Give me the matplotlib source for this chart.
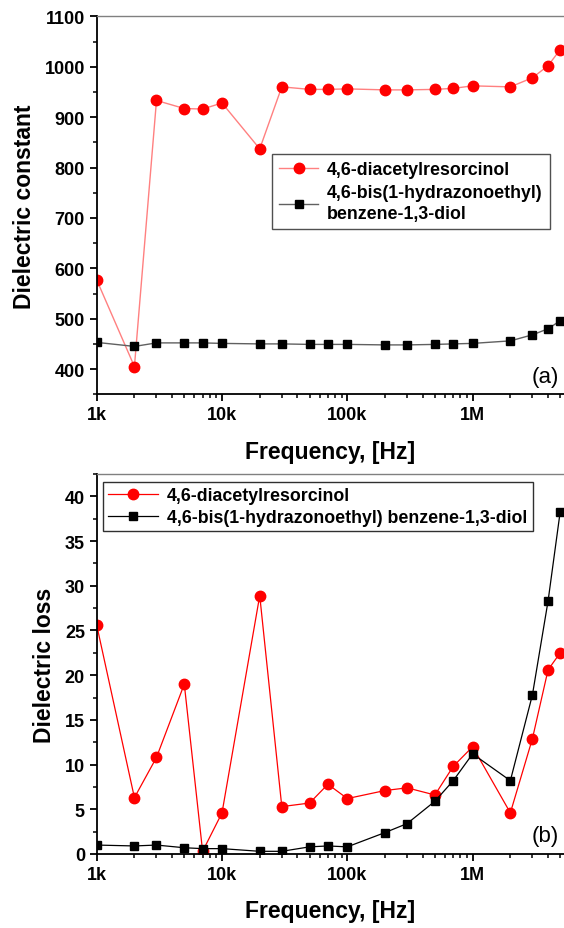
import matplotlib
matplotlib.use("Agg")
import matplotlib.pyplot as plt
from matplotlib.ticker import FixedLocator, FixedFormatter, LogLocator, NullFormatter, MultipleLocator

plt.rcParams['font.family'] = ['Liberation Sans', 'DejaVu Sans']

freq = [1e3, 2e3, 3e3, 5e3, 7e3, 1e4, 2e4, 3e4, 5e4, 7e4, 1e5, 2e5, 3e5, 5e5, 7e5,
        1e6, 2e6, 3e6, 4e6, 5e6]

const_dar = [577, 405, 933, 917, 916, 928, 837, 960, 955, 955, 956, 954, 954, 955, 957,
             962, 960, 978, 1002, 1034]
const_bhb = [453, 445, 452, 452, 452, 451, 450, 450, 449, 449, 449, 448, 448, 449, 450,
             451, 456, 468, 480, 496]

loss_dar = [25.6, 6.3, 10.8, 19.0, 0.3, 4.6, 28.9, 5.3, 5.7, 7.8, 6.2, 7.1, 7.4, 6.6, 9.8,
            12.0, 4.6, 12.9, 20.6, 22.5]
loss_bhb = [1.0, 0.9, 1.0, 0.7, 0.6, 0.6, 0.3, 0.3, 0.8, 0.9, 0.8, 2.4, 3.4, 5.9, 8.2,
            11.2, 8.2, 17.8, 28.3, 38.3]

label_dar = "4,6-diacetylresorcinol"
label_bhb_a = "4,6-bis(1-hydrazonoethyl)\nbenzene-1,3-diol"
label_bhb_b = "4,6-bis(1-hydrazonoethyl) benzene-1,3-diol"

xtick_vals = [1e3, 1e4, 1e5, 1e6]
xtick_labels = ["1k", "10k", "100k", "1M"]

W, H = 564, 929
fig = plt.figure(figsize=(W / 100, H / 100), dpi=100)

left = 96.7 / W
ax1 = fig.add_axes([left, (H - 395.3) / H, 1 - left, 378 / H])
ax2 = fig.add_axes([left, (H - 855) / H, 1 - left, 380 / H])

xmax = 5.36e6
TICK_FS = 13
LAB_FS = 16.5
LEG_FS = 12.8

def style(ax):
    ax.set_xscale('log')
    ax.set_xlim(1e3, xmax)
    ax.xaxis.set_major_locator(FixedLocator(xtick_vals))
    ax.xaxis.set_major_formatter(FixedFormatter(xtick_labels))
    ax.xaxis.set_minor_locator(LogLocator(base=10, subs=range(2, 10), numticks=20))
    ax.xaxis.set_minor_formatter(NullFormatter())
    ax.spines['right'].set_visible(False)
    ax.spines['top'].set_color('#808080')
    ax.spines['top'].set_linewidth(1.0)
    for s in ('left', 'bottom'):
        ax.spines[s].set_linewidth(1.3)
        ax.spines[s].set_color('black')
    ax.tick_params(which='major', direction='out', length=5, width=1.3,
                   labelsize=TICK_FS, top=False, right=False)
    ax.tick_params(which='minor', direction='out', length=3, width=1.1,
                   top=False, right=False)
    for lab in ax.get_xticklabels():
        lab.set_fontweight('bold')
    ax.set_xlabel("Frequency, [Hz]", fontsize=LAB_FS, fontweight='bold', labelpad=12)

# (a)
ax1.plot(freq, const_dar, color='#ff8080', lw=1.0, marker='o', ms=7.5,
         mfc='red', mec='red', label=label_dar)
ax1.plot(freq, const_bhb, color='#606060', lw=1.0, marker='s', ms=5.5,
         mfc='black', mec='black', label=label_bhb_a)
ax1.set_ylim(350, 1100)
style(ax1)
ax1.set_yticks(range(400, 1101, 100))
ax1.set_yticklabels([str(v) for v in range(400, 1101, 100)], fontweight='bold')
ax1.yaxis.set_minor_locator(MultipleLocator(50))
ax1.set_ylabel("Dielectric constant", fontsize=LAB_FS, fontweight='bold', labelpad=6)
leg1 = ax1.legend(loc='upper left', bbox_to_anchor=(272 / W, (H - 155) / H),
                  bbox_transform=fig.transFigure,
                  frameon=True, fancybox=False, framealpha=1, edgecolor='#505050',
                  prop={'weight': 'bold', 'size': LEG_FS}, handlelength=2.2,
                  borderpad=0.4, labelspacing=0.35, handletextpad=0.5, borderaxespad=0)
for t in leg1.get_texts():
    t.set_linespacing(1.3)
leg1.get_frame().set_linewidth(1.0)
ax1.text(0.99, 0.02, "(a)", transform=ax1.transAxes, ha='right', va='bottom', fontsize=16)

# (b)
ax2.plot(freq, loss_dar, color='red', lw=0.9, marker='o', ms=7.5,
         mfc='red', mec='red', label=label_dar)
ax2.plot(freq, loss_bhb, color='black', lw=0.9, marker='s', ms=5.5,
         mfc='black', mec='black', label=label_bhb_b)
ax2.set_ylim(0, 42.5)
style(ax2)
ax2.set_yticks(range(0, 41, 5))
ax2.set_yticklabels([str(v) for v in range(0, 41, 5)], fontweight='bold')
ax2.yaxis.set_minor_locator(MultipleLocator(2.5))
ax2.set_ylabel("Dielectric loss", fontsize=LAB_FS, fontweight='bold', labelpad=6)
leg2 = ax2.legend(loc='upper left', bbox_to_anchor=(103 / W, (H - 483) / H),
                  bbox_transform=fig.transFigure,
                  frameon=True, fancybox=False, framealpha=1, edgecolor='#303030',
                  prop={'weight': 'bold', 'size': LEG_FS}, handlelength=2.8,
                  borderpad=0.3, labelspacing=0.25, handletextpad=0.5, borderaxespad=0)
leg2.get_frame().set_linewidth(1.0)
ax2.text(0.99, 0.02, "(b)", transform=ax2.transAxes, ha='right', va='bottom', fontsize=16)

fig.savefig("out.png", dpi=100)
